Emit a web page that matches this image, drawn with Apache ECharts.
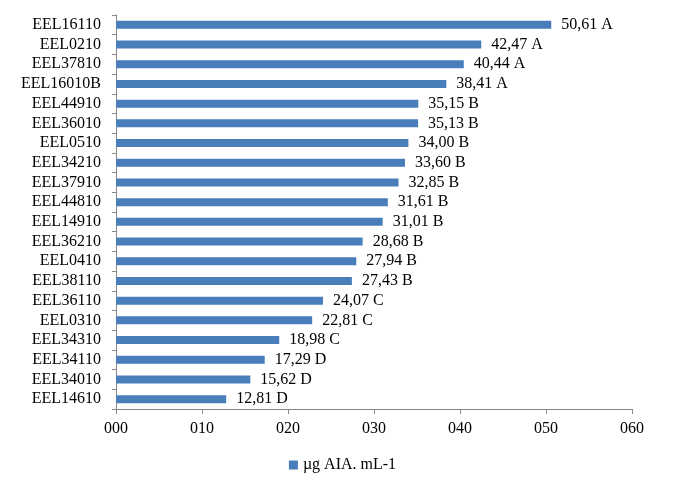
<!DOCTYPE html>
<html><head><meta charset="utf-8">
<script src="https://cdn.jsdelivr.net/npm/echarts@6/dist/echarts.min.js"></script>
<style>html,body{margin:0;padding:0;background:#fff}#c{width:685px;height:487px}</style>
</head><body><div id="c"></div>
<script>
const categories = ["EEL16110","EEL0210","EEL37810","EEL16010B","EEL44910","EEL36010","EEL0510","EEL34210","EEL37910","EEL44810","EEL14910","EEL36210","EEL0410","EEL38110","EEL36110","EEL0310","EEL34310","EEL34110","EEL34010","EEL14610"];
const values = [50.61,42.47,40.44,38.41,35.15,35.13,34.00,33.60,32.85,31.61,31.01,28.68,27.94,27.43,24.07,22.81,18.98,17.29,15.62,12.81];
const groups = ["A","A","A","A","B","B","B","B","B","B","B","B","B","B","C","C","C","D","D","D"];
const seriesName = "µg AIA. mL-1";
const xTicks = [0,10,20,30,40,50,60];

const font = '"Liberation Serif","Times New Roman",serif';
const chart = echarts.init(document.getElementById('c'));
chart.setOption({
  animation:false,
  grid:{left:116,right:53,top:15,bottom:78,containLabel:false},
  legend:{bottom:9,left:'center',itemWidth:9,itemHeight:9,icon:'rect',itemGap:4,
    textStyle:{fontFamily:font,fontSize:16,color:'#000'},data:[seriesName]},
  xAxis:{type:'value',min:xTicks[0],max:xTicks[xTicks.length-1],interval:10,
    axisLine:{show:true,lineStyle:{color:'#888'}},
    axisTick:{show:true,length:5,lineStyle:{color:'#888'}},
    splitLine:{show:false},
    axisLabel:{fontFamily:font,fontSize:16,color:'#000',margin:12,
      formatter:v=>String(v).padStart(3,'0')}},
  yAxis:{type:'category',inverse:true,data:categories,
    axisLine:{show:true,lineStyle:{color:'#888'}},
    axisTick:{show:true,length:4,interval:0,lineStyle:{color:'#888'}},
    axisLabel:{interval:0,fontFamily:font,fontSize:16,color:'#000',margin:15}},
  series:[{name:seriesName,type:'bar',barWidth:8,
    itemStyle:{color:'#4a7ebb'},
    data:values,
    label:{show:true,position:'right',distance:10,fontFamily:font,fontSize:16,color:'#000',
      formatter:p=>values[p.dataIndex].toFixed(2).replace('.',',')+' '+groups[p.dataIndex]}}]
});
</script></body></html>
